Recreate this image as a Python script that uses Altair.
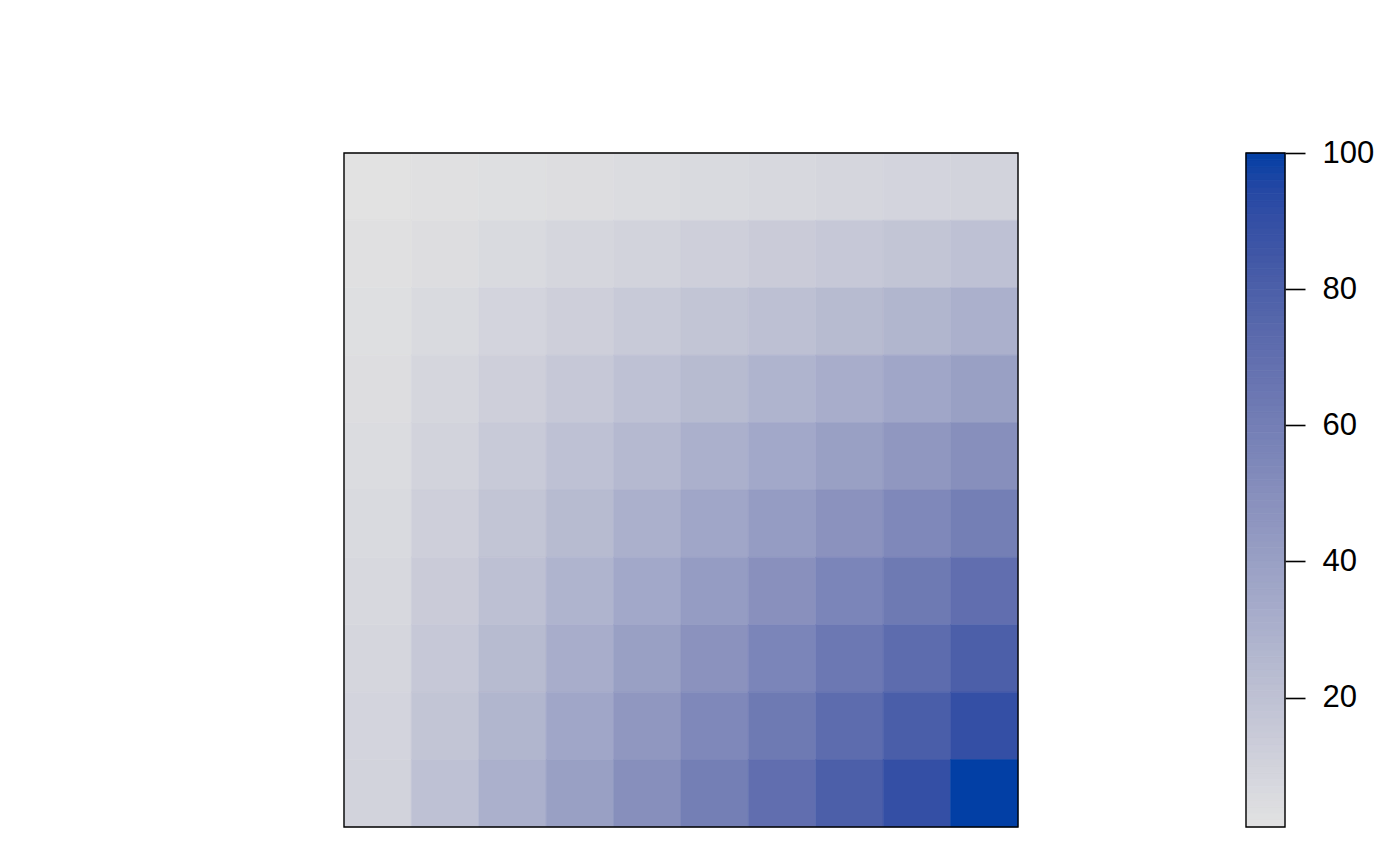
import altair as alt
import pandas as pd
import numpy as np

# columns 1..10 (left to right), rows listed top to bottom
col_ids = [1, 2, 3, 4, 5, 6, 7, 8, 9, 10]
row_ids = [1, 2, 3, 4, 5, 6, 7, 8, 9, 10]  # 1 = top row
values_by_row = [
    [1, 2, 3, 4, 5, 6, 7, 8, 9, 10],
    [2, 4, 6, 8, 10, 12, 14, 16, 18, 20],
    [3, 6, 9, 12, 15, 18, 21, 24, 27, 30],
    [4, 8, 12, 16, 20, 24, 28, 32, 36, 40],
    [5, 10, 15, 20, 25, 30, 35, 40, 45, 50],
    [6, 12, 18, 24, 30, 36, 42, 48, 54, 60],
    [7, 14, 21, 28, 35, 42, 49, 56, 63, 70],
    [8, 16, 24, 32, 40, 48, 56, 64, 72, 80],
    [9, 18, 27, 36, 45, 54, 63, 72, 81, 90],
    [10, 20, 30, 40, 50, 60, 70, 80, 90, 100],
]
legend_ticks = [20, 40, 60, 80, 100]
zmin, zmax = 1, 100

# sequential HCL palette (polar Luv): hue 260, luminance 90 -> 30, chroma 0 -> 80
def hcl_hex(h, c, l):
    un, vn = 0.1978398, 0.4683363
    Y = ((l + 16) / 116) ** 3 if l > 8 else l / 903.3
    u = c * np.cos(np.radians(h))
    v = c * np.sin(np.radians(h))
    up = u / (13 * l) + un
    vp = v / (13 * l) + vn
    X = Y * 9 * up / (4 * vp)
    Z = Y * (12 - 3 * up - 20 * vp) / (4 * vp)
    rgb = [3.2406 * X - 1.5372 * Y - 0.4986 * Z,
           -0.9689 * X + 1.8758 * Y + 0.0415 * Z,
           0.0557 * X - 0.2040 * Y + 1.0570 * Z]
    out = []
    for ch in rgb:
        ch = min(max(ch, 0), 1)
        ch = 12.92 * ch if ch <= 0.0031308 else 1.055 * ch ** (1 / 2.4) - 0.055
        out.append(int(round(ch * 255)))
    return "#%02X%02X%02X" % tuple(out)

pal = [hcl_hex(260, 80 * t, 90 - 60 * t) for t in np.linspace(0, 1, 21)]

recs = []
for r, row in zip(row_ids, values_by_row):
    for c, v in zip(col_ids, row):
        recs.append({"col": c, "row": r, "z": v})
df = pd.DataFrame(recs)

color_scale = alt.Scale(domain=list(np.linspace(zmin, zmax, len(pal))), range=pal, interpolate="rgb")

frame_df = pd.DataFrame({"k": [0]})

def frame(w, h):
    return alt.Chart(frame_df).mark_rect(fill=None, stroke="black", strokeWidth=1.4).encode(
        x=alt.value(0), x2=alt.value(w), y=alt.value(0), y2=alt.value(h)
    )

cells = alt.Chart(df).mark_rect(strokeWidth=0.6).encode(
    x=alt.X("col:O", axis=None, scale=alt.Scale(paddingInner=0, paddingOuter=0)),
    y=alt.Y("row:O", axis=None, scale=alt.Scale(paddingInner=0, paddingOuter=0)),
    color=alt.Color("z:Q", scale=color_scale, legend=None),
    stroke=alt.Stroke("z:Q", scale=color_scale, legend=None),
)
heat = alt.layer(cells, frame(674, 674)).properties(width=674, height=674)

# colour bar slices
steps = np.linspace(zmin, zmax, 100)
bar_df = pd.DataFrame({"v": steps[:-1], "v2": steps[1:], "z": (steps[:-1] + steps[1:]) / 2})
slices = alt.Chart(bar_df).mark_rect(strokeWidth=0.8).encode(
    x=alt.value(0),
    x2=alt.value(39),
    y=alt.Y("v:Q", scale=alt.Scale(domain=[zmin, zmax], nice=False, zero=False),
            axis=alt.Axis(orient="right", values=legend_ticks, domain=False, grid=False,
                          tickSize=20, tickColor="black", tickWidth=1.6,
                          labelFontSize=31, labelPadding=17, labelColor="black",
                          labelFont="Liberation Sans", title=None)),
    y2="v2:Q",
    color=alt.Color("z:Q", scale=color_scale, legend=None),
    stroke=alt.Stroke("z:Q", scale=color_scale, legend=None),
)
bar = alt.layer(slices, frame(39, 674)).properties(width=39, height=674)

chart = alt.hconcat(heat, bar, spacing=226).properties(
    padding={"left": 343, "top": 137, "right": 0, "bottom": 0},
    background="white",
).configure_view(strokeWidth=0)

chart.save("out.html", embed_options={"renderer": "svg", "actions": False})
